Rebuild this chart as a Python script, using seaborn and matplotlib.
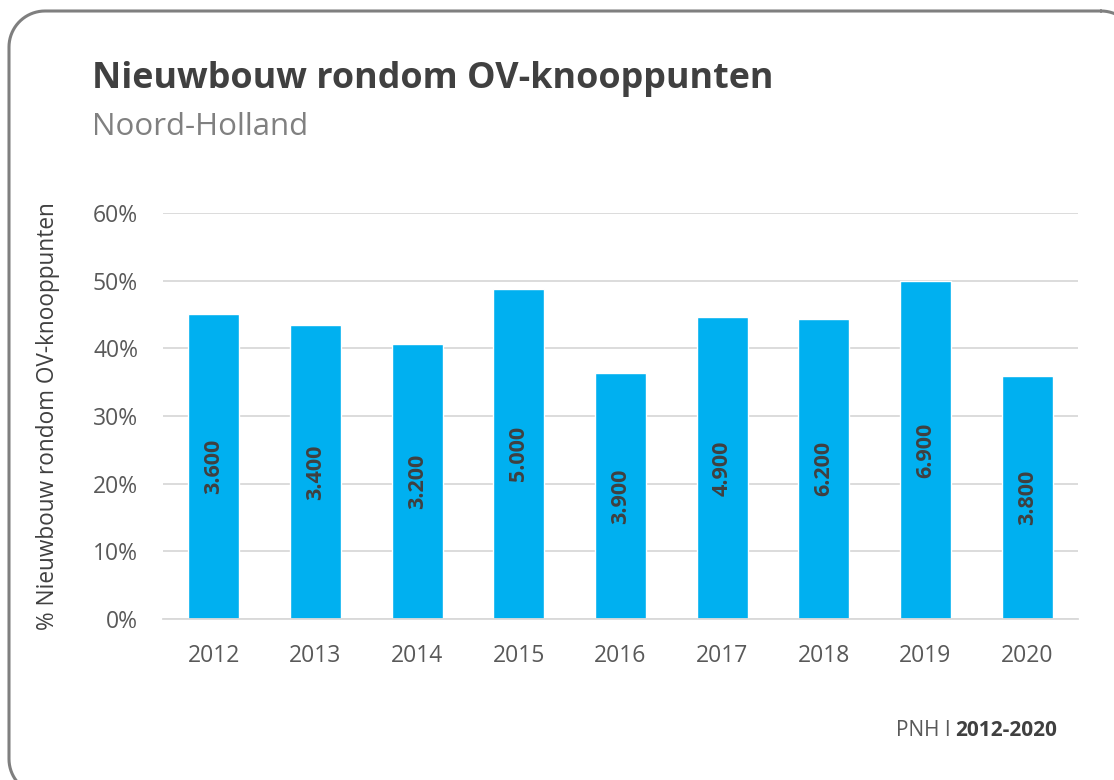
import numpy as np
import pandas as pd
import seaborn as sns
import matplotlib.pyplot as plt
from matplotlib.lines import Line2D

# data
years = ["2012", "2013", "2014", "2015", "2016", "2017", "2018", "2019", "2020"]
share_pct = [45.0, 43.5, 40.6, 48.8, 36.3, 44.6, 44.4, 49.9, 35.9]
dwellings = ["3.600", "3.400", "3.200", "5.000", "3.900", "4.900", "6.200", "6.900", "3.800"]

title = "Nieuwbouw rondom OV-knooppunten"
subtitle = "Noord-Holland"
ylabel = "% Nieuwbouw rondom OV-knooppunten"

sns.set_style("white")
plt.rcParams["font.family"] = ["Open Sans", "DejaVu Sans"]

df = pd.DataFrame({"jaar": years, "pct": share_pct})

fig = plt.figure(figsize=(11.14, 7.8), dpi=100)
W, H = 1114, 780


def frame_outline(x0, y0, x1, y1, r, n=20):
    # rounded rectangle in pixel coords (y downwards), returned as figure fractions
    corners = [(x1 - r, y0 + r, 90, 0), (x1 - r, y1 - r, 0, -90),
               (x0 + r, y1 - r, -90, -180), (x0 + r, y0 + r, 180, 90)]
    xs, ys = [], []
    for cx, cy, a0, a1 in corners:
        t = np.radians(np.linspace(a0, a1, n))
        xs.extend(cx + r * np.cos(t))
        ys.extend(cy - r * np.sin(t))
    xs.append(xs[0])
    ys.append(ys[0])
    return np.array(xs) / W, 1 - np.array(ys) / H


fx, fy = frame_outline(9, 11, 1137, 795, 36)
fig.lines.append(Line2D(fx, fy, transform=fig.transFigure, color="#7f7f7f",
                        linewidth=2.2, solid_joinstyle="round"))

ax = fig.add_axes([163 / W, (H - 619) / H, (1078 - 163) / W, (619 - 213) / H])
sns.barplot(data=df, x="jaar", y="pct", color="#00b0f0", saturation=1,
            width=0.5, ax=ax)

ax.set_ylim(0, 60)
ax.set_yticks(np.arange(0, 61, 10))
ax.set_yticklabels([f"{t}%" for t in range(0, 61, 10)])
ax.yaxis.grid(True, color="#d9d9d9", linewidth=1.3)
ax.set_axisbelow(True)
for s in ["top", "right", "left"]:
    ax.spines[s].set_visible(False)
ax.spines["bottom"].set_color("#d9d9d9")
ax.spines["bottom"].set_linewidth(1.3)
ax.tick_params(axis="both", length=0, labelsize=16.5, labelcolor="#595959")
ax.tick_params(axis="x", pad=18)
ax.tick_params(axis="y", pad=18)
ax.set_xlabel("")
ax.set_ylabel(ylabel, fontsize=16.3, color="#404040")
ax.yaxis.set_label_coords(-0.113, 0.5)

ax.bar_label(ax.containers[0], labels=dwellings, label_type="center",
             rotation=90, fontsize=15.5, fontweight="bold", color="#404040")

fig.text(92 / W, 1 - 79 / H, title, fontsize=25.8, fontweight="bold",
         color="#404040", va="center", ha="left")
fig.text(92 / W, 1 - 127 / H, subtitle, fontsize=22.5, color="#808080",
         va="center", ha="left")

# footer: normal part + bold part
t2 = fig.text(1057 / W, 1 - 731 / H, "2012-2020", fontsize=15, fontweight="bold",
              color="#404040", ha="right", va="center")
fig.canvas.draw()
bb = t2.get_window_extent()
fig.text(bb.x0 / W - 0.004, 1 - 731 / H, "PNH I", fontsize=15, color="#595959",
         ha="right", va="center")

fig.savefig("out.png", dpi=100, facecolor="white")
